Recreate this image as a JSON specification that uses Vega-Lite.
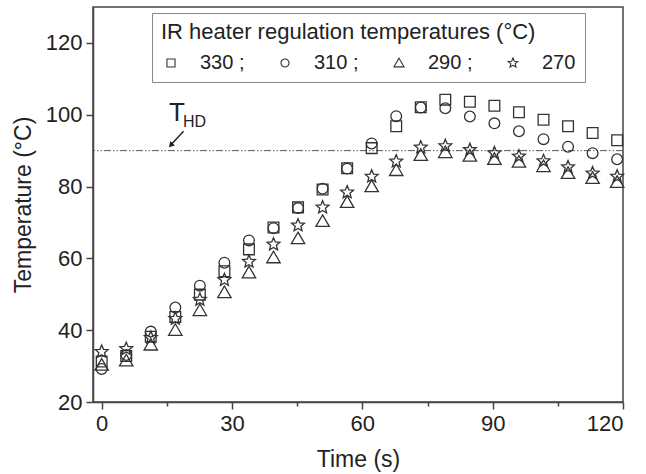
{
  "$schema": "https://vega.github.io/schema/vega-lite/v6.json",
  "width": 530,
  "height": 395,
  "autosize": {"type": "none"},
  "padding": {"left": 93, "top": 7, "right": 23, "bottom": 72},
  "background": "white",
  "config": {
    "view": {"stroke": "#444", "strokeWidth": 1.5},
    "font": "Liberation Sans",
    "axis": {
      "grid": false,
      "domainColor": "#444",
      "domainWidth": 1.5,
      "tickColor": "#444",
      "tickWidth": 1.5,
      "labelFont": "Liberation Sans",
      "labelFontSize": 22,
      "labelColor": "#222",
      "titleFont": "Liberation Sans",
      "titleFontSize": 23,
      "titleFontWeight": "normal",
      "titleColor": "#222"
    }
  },
  "datasets": {
    "temps": [
      {"time": 0, "temp": 31.3, "heater": "330"},
      {"time": 0, "temp": 29.2, "heater": "310"},
      {"time": 0, "temp": 30.3, "heater": "290"},
      {"time": 0, "temp": 34.0, "heater": "270"},
      {"time": 5.65, "temp": 32.8, "heater": "330"},
      {"time": 5.65, "temp": 33.1, "heater": "310"},
      {"time": 5.65, "temp": 31.5, "heater": "290"},
      {"time": 5.65, "temp": 34.8, "heater": "270"},
      {"time": 11.3, "temp": 38.2, "heater": "330"},
      {"time": 11.3, "temp": 39.6, "heater": "310"},
      {"time": 11.3, "temp": 35.9, "heater": "290"},
      {"time": 11.3, "temp": 37.9, "heater": "270"},
      {"time": 16.95, "temp": 43.7, "heater": "330"},
      {"time": 16.95, "temp": 46.3, "heater": "310"},
      {"time": 16.95, "temp": 40.0, "heater": "290"},
      {"time": 16.95, "temp": 43.2, "heater": "270"},
      {"time": 22.6, "temp": 49.9, "heater": "330"},
      {"time": 22.6, "temp": 52.4, "heater": "310"},
      {"time": 22.6, "temp": 45.5, "heater": "290"},
      {"time": 22.6, "temp": 48.5, "heater": "270"},
      {"time": 28.25, "temp": 56.4, "heater": "330"},
      {"time": 28.25, "temp": 58.8, "heater": "310"},
      {"time": 28.25, "temp": 50.5, "heater": "290"},
      {"time": 28.25, "temp": 54.0, "heater": "270"},
      {"time": 33.9, "temp": 62.5, "heater": "330"},
      {"time": 33.9, "temp": 65.0, "heater": "310"},
      {"time": 33.9, "temp": 56.0, "heater": "290"},
      {"time": 33.9, "temp": 59.1, "heater": "270"},
      {"time": 39.55, "temp": 68.6, "heater": "330"},
      {"time": 39.55, "temp": 68.4, "heater": "310"},
      {"time": 39.55, "temp": 60.2, "heater": "290"},
      {"time": 39.55, "temp": 63.9, "heater": "270"},
      {"time": 45.2, "temp": 74.2, "heater": "330"},
      {"time": 45.2, "temp": 74.0, "heater": "310"},
      {"time": 45.2, "temp": 65.5, "heater": "290"},
      {"time": 45.2, "temp": 69.2, "heater": "270"},
      {"time": 50.85, "temp": 79.2, "heater": "330"},
      {"time": 50.85, "temp": 79.4, "heater": "310"},
      {"time": 50.85, "temp": 70.3, "heater": "290"},
      {"time": 50.85, "temp": 74.2, "heater": "270"},
      {"time": 56.5, "temp": 85.1, "heater": "330"},
      {"time": 56.5, "temp": 85.0, "heater": "310"},
      {"time": 56.5, "temp": 75.6, "heater": "290"},
      {"time": 56.5, "temp": 78.4, "heater": "270"},
      {"time": 62.15, "temp": 90.7, "heater": "330"},
      {"time": 62.15, "temp": 92.0, "heater": "310"},
      {"time": 62.15, "temp": 80.0, "heater": "290"},
      {"time": 62.15, "temp": 82.8, "heater": "270"},
      {"time": 67.8, "temp": 96.8, "heater": "330"},
      {"time": 67.8, "temp": 99.6, "heater": "310"},
      {"time": 67.8, "temp": 84.5, "heater": "290"},
      {"time": 67.8, "temp": 87.0, "heater": "270"},
      {"time": 73.45, "temp": 102.1, "heater": "330"},
      {"time": 73.45, "temp": 102.0, "heater": "310"},
      {"time": 73.45, "temp": 88.7, "heater": "290"},
      {"time": 73.45, "temp": 90.9, "heater": "270"},
      {"time": 79.1, "temp": 104.2, "heater": "330"},
      {"time": 79.1, "temp": 101.8, "heater": "310"},
      {"time": 79.1, "temp": 89.5, "heater": "290"},
      {"time": 79.1, "temp": 91.3, "heater": "270"},
      {"time": 84.75, "temp": 103.6, "heater": "330"},
      {"time": 84.75, "temp": 99.5, "heater": "310"},
      {"time": 84.75, "temp": 88.5, "heater": "290"},
      {"time": 84.75, "temp": 90.2, "heater": "270"},
      {"time": 90.4, "temp": 102.5, "heater": "330"},
      {"time": 90.4, "temp": 97.6, "heater": "310"},
      {"time": 90.4, "temp": 87.6, "heater": "290"},
      {"time": 90.4, "temp": 89.3, "heater": "270"},
      {"time": 96.05, "temp": 100.7, "heater": "330"},
      {"time": 96.05, "temp": 95.4, "heater": "310"},
      {"time": 96.05, "temp": 86.8, "heater": "290"},
      {"time": 96.05, "temp": 88.4, "heater": "270"},
      {"time": 101.7, "temp": 98.6, "heater": "330"},
      {"time": 101.7, "temp": 93.2, "heater": "310"},
      {"time": 101.7, "temp": 85.6, "heater": "290"},
      {"time": 101.7, "temp": 87.1, "heater": "270"},
      {"time": 107.35, "temp": 96.8, "heater": "330"},
      {"time": 107.35, "temp": 91.1, "heater": "310"},
      {"time": 107.35, "temp": 83.7, "heater": "290"},
      {"time": 107.35, "temp": 85.4, "heater": "270"},
      {"time": 113.0, "temp": 94.9, "heater": "330"},
      {"time": 113.0, "temp": 89.3, "heater": "310"},
      {"time": 113.0, "temp": 82.3, "heater": "290"},
      {"time": 113.0, "temp": 83.7, "heater": "270"},
      {"time": 118.65, "temp": 92.9, "heater": "330"},
      {"time": 118.65, "temp": 87.6, "heater": "310"},
      {"time": 118.65, "temp": 81.2, "heater": "290"},
      {"time": 118.65, "temp": 82.8, "heater": "270"}
    ],
    "one": [{}]
  },
  "layer": [
    {
      "data": {"name": "one"},
      "mark": {"type": "rule", "color": "#555", "strokeWidth": 1, "strokeDash": [7, 2, 1.5, 2, 1.5, 2]},
      "encoding": {"y": {"datum": 90, "type": "quantitative"}}
    },
    {
      "data": {"name": "temps"},
      "mark": {"type": "point", "filled": false, "color": "#333", "strokeWidth": 1.3, "size": 115, "opacity": 1},
      "encoding": {
        "x": {
          "field": "time",
          "type": "quantitative",
          "scale": {"domain": [-2, 120], "nice": false, "zero": false},
          "axis": {
            "title": "Time (s)",
            "values": [0, 15, 30, 45, 60, 75, 90, 105, 120],
            "labelExpr": "datum.value % 30 === 0 ? datum.label : ''",
            "tickSize": {"condition": {"test": "datum.value % 30 === 0", "value": 7}, "value": 4},
            "labelPadding": 4,
            "titlePadding": 14
          }
        },
        "y": {
          "field": "temp",
          "type": "quantitative",
          "scale": {"domain": [20, 130], "nice": false, "zero": false},
          "axis": {
            "title": "Temperature (°C)",
            "values": [20, 40, 60, 80, 100, 120],
            "tickSize": 7,
            "labelPadding": 4,
            "titlePadding": 10
          }
        },
        "shape": {
          "field": "heater",
          "type": "nominal",
          "scale": {
            "domain": ["330", "310", "290", "270"],
            "range": ["square", "circle", "M0,-1.2L1.25,0.95L-1.25,0.95Z", "M0,-1.25L0.33,-0.45L1.19,-0.39L0.53,0.17L0.74,1.01L0,0.57L-0.74,1.01L-0.53,0.17L-1.19,-0.39L-0.33,-0.45Z"]
          },
          "legend": {
            "title": "IR heater regulation temperatures (°C)",
            "orient": "none",
            "legendX": 59,
            "legendY": 6,
            "direction": "horizontal",
            "columns": 4,
            "strokeColor": "#888",
            "padding": 9,
            "titleFont": "Liberation Sans",
            "titleFontSize": 22,
            "titleFontWeight": "normal",
            "titleColor": "#222",
            "titleAnchor": "start",
            "titleLimit": 600,
            "titlePadding": 9,
            "labelFont": "Liberation Sans",
            "labelFontSize": 20,
            "labelColor": "#222",
            "labelOffset": 19,
            "columnPadding": 30,
            "symbolSize": 65,
            "symbolStrokeColor": "#333",
            "symbolStrokeWidth": 1.1,
            "labelExpr": "datum.label == '270' ? '270' : datum.label + ' ;'"
          }
        }
      }
    },
    {
      "data": {"name": "one"},
      "mark": {"type": "text", "text": "T", "fontSize": 26, "font": "Liberation Sans", "align": "center", "baseline": "alphabetic", "color": "#222"},
      "encoding": {"x": {"datum": 17.3, "type": "quantitative"}, "y": {"datum": 98.2, "type": "quantitative"}}
    },
    {
      "data": {"name": "one"},
      "mark": {"type": "text", "text": "HD", "fontSize": 16, "font": "Liberation Sans", "align": "left", "baseline": "alphabetic", "color": "#222"},
      "encoding": {"x": {"datum": 18.7, "type": "quantitative"}, "y": {"datum": 96.6, "type": "quantitative"}}
    },
    {
      "data": {"name": "one"},
      "mark": {"type": "rule", "color": "#222", "strokeWidth": 1.5},
      "encoding": {
        "x": {"datum": 18.85, "type": "quantitative"},
        "y": {"datum": 95.4, "type": "quantitative"},
        "x2": {"datum": 16.0},
        "y2": {"datum": 91.7}
      }
    },
    {
      "data": {"name": "one"},
      "mark": {"type": "point", "shape": "triangle-up", "filled": true, "color": "#222", "size": 40, "angle": 223, "opacity": 1},
      "encoding": {"x": {"datum": 15.9, "type": "quantitative"}, "y": {"datum": 91.5, "type": "quantitative"}}
    }
  ]
}
